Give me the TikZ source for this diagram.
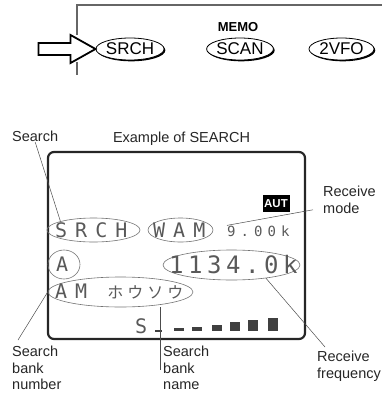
\documentclass[tikz,border=0pt]{standalone}
\usepackage{fontspec}
\setmainfont{Liberation Sans}
\newfontfamily\lcdbig{DejaVu Sans Mono}[LetterSpace=40]
\newfontfamily\lcdsmall{DejaVu Sans Mono}[LetterSpace=36]
\newfontfamily\lcdfreq{DejaVu Sans Mono}[LetterSpace=19]
\newfontfamily\lcdkana{Noto Sans CJK JP}[LetterSpace=25]
\usetikzlibrary{shapes.geometric,shadows,calc}

\begin{document}
\begin{tikzpicture}[x=1pt,y=-1pt,
 lbl/.style={align=left,inner sep=0pt,anchor=north west,text=black!85,font=\fontsize{14.5}{16.5}\selectfont},
 key/.style={draw,ellipse,thick,fill=white,minimum width=65pt,minimum height=22pt,inner sep=0pt,
  font=\fontsize{17}{17}\selectfont,drop shadow={shadow xshift=1.3pt,shadow yshift=-1.3pt,opacity=1,fill=black}},
 ring/.style={draw=black!55,ellipse,line width=0.6pt,inner sep=0pt},
 seg/.style={inner sep=0pt,anchor=west,text=black!65,font=\lcdbig\fontsize{20}{20}\selectfont},
 lead/.style={draw=black!70,line width=0.5pt},
 bar/.style={fill=black!75}]
\useasboundingbox (0,0) rectangle (386,394);
% front panel
\draw[black!60,line width=1.6pt] (77,35) -- (77,5) -- (382,5);
\draw[black!60,line width=1.6pt] (77,62) -- (77,75);
\node[key] (srchkey) at (130,49) {SRCH};
\node[key] (scankey) at (240,49) {SCAN};
\node[key] (vfokey) at (341.5,49) {2VFO};
\node[font=\bfseries\fontsize{13}{13}\selectfont,inner sep=0pt] (memo) at (238,27) {MEMO};
\draw[line width=1.8pt,line join=miter,fill=white] (srchkey.west) -- ++(-25,-14) -- ++(0,8) -- ++(-32,0)
 -- ++(0,12) -- ++(32,0) -- ++(0,8) -- cycle;
% display
\node[lbl] (lsrch) at (12,131) {Search};
\node[lbl,anchor=north] (ltitle) at (181.5,132) {Example of SEARCH};
\node[draw=black!85,line width=2.2pt,rounded corners=6pt,minimum width=257pt,minimum height=187pt] (lcd) at (176.5,245.5) {};
\node[fill=black,text=white,font=\bfseries\fontsize{11.5}{11.5}\selectfont,inner sep=0pt,
 minimum width=27pt,minimum height=17pt] (aut) at (276,203.5) {AUT};
\node[ring,minimum width=93pt,minimum height=24pt] (srch) at (93.5,230) {};
\node[seg] (srchtxt) at (55,230) {SRCH};
\node[ring,minimum width=65pt,minimum height=24pt] (wam) at (180.5,230) {};
\node[seg] (wamtxt) at (153,230) {WAM};
\node[seg,font=\lcdsmall\fontsize{14}{14}\selectfont] (fstep) at (227,231) {9.00k};
\node[ring,minimum width=32pt,minimum height=29pt] (mem) at (64,264.5) {};
\node[seg] (memtxt) at (56,264.5) {A};
\node[ring,minimum width=137pt,minimum height=30pt] (freq) at (231.5,265) {};
\node[seg,font=\lcdfreq\fontsize{24}{24}\selectfont] (freqtxt) at (169,265) {1134.0k};
\node[ring,minimum width=145pt,minimum height=30pt] (bank) at (120.5,292) {};
\node[seg] (banktxt) at (55,292) {AM {\lcdkana\fontsize{16}{16}\selectfont ホウソウ}};
\node[seg] (smeter) at (135,326) {S};
\fill[bar] (155,330) rectangle (162,331.5);
\foreach \bx/\bh in {174/3,192/4,212/6,230/9,248/11,268/13}
 \fill[bar] (\bx,331) rectangle ++(10,-\bh);
% callouts
\node[lbl] (lmode) at (323,186) {Receive\\mode};
\node[lbl] (lnum) at (12,346) {Search\\bank\\number};
\node[lbl] (lname) at (163,346) {Search\\bank\\name};
\node[lbl] (lfreq) at (317,351) {Receive\\frequency};
\coordinate (nameleg) at ($(lname.north west)+(-3,24)$);
\draw[lead] (lsrch.south) -- (srch.north west);
\draw[lead] (fstep.north west) -- ($(lmode.west)+(-10,10)$);
\draw[lead] (bank.west) -- ($(lnum.north west)+(6,-6)$);
\draw[lead] (nameleg |- bank.south) -- (nameleg);
\draw[lead] (freq.-21) -- ($(lfreq.north west)+(8,-4)$);
\end{tikzpicture}
\end{document}
